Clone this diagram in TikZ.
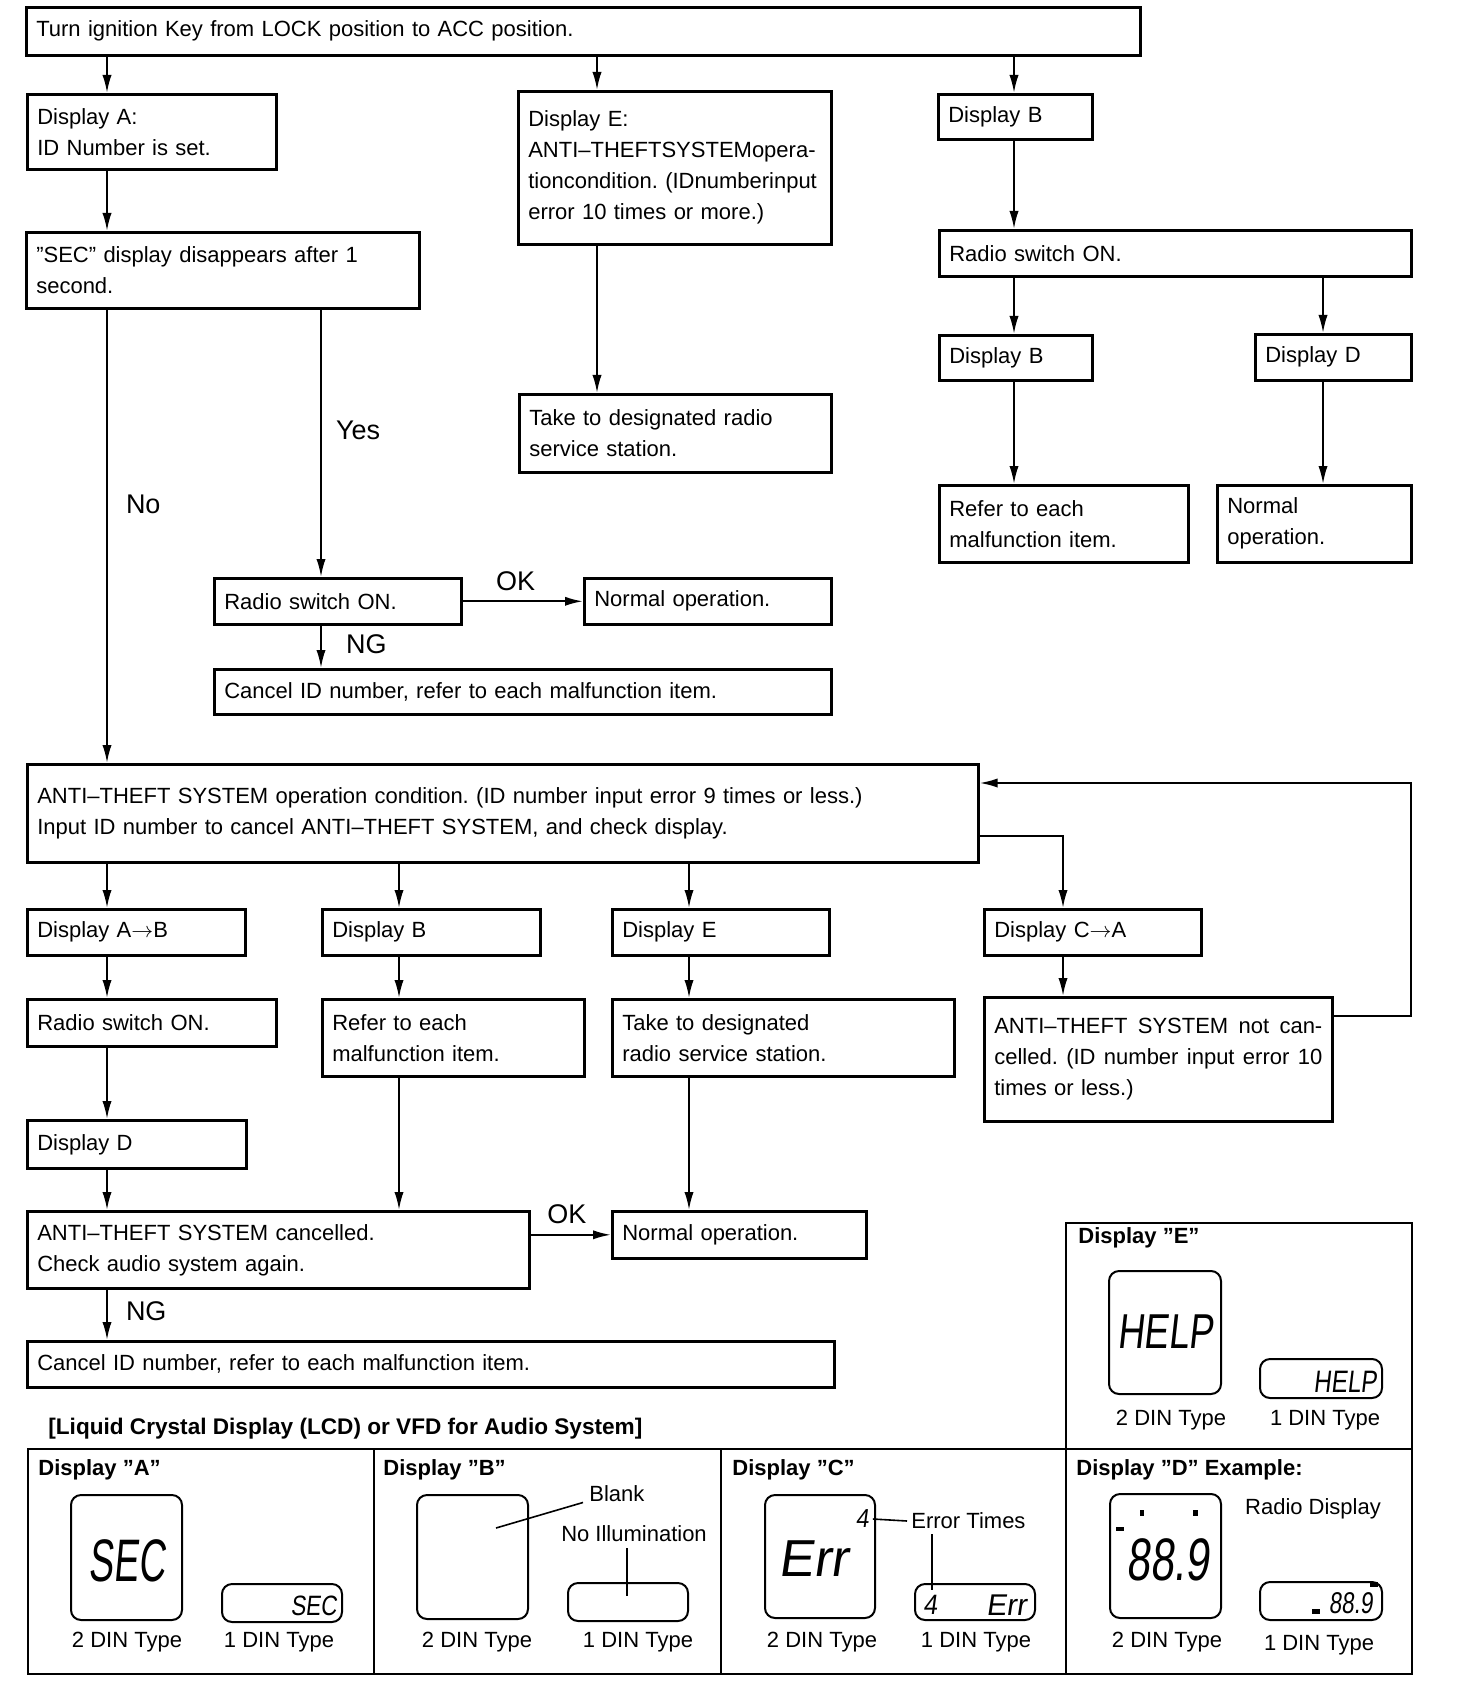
\documentclass[tikz,border=0pt]{standalone}
\usepackage{fontspec}
\usepackage{graphicx}
\setmainfont{Liberation Sans}
\newfontfamily\lcdfont[FakeSlant=0.15]{Liberation Sans}
\usetikzlibrary{arrows.meta}
\frenchspacing
\tikzstyle{box} = [rectangle, draw=black, line width=1.3pt, anchor=north west, align=left, inner xsep=5pt, inner ysep=2pt, font=\fontsize{11}{15.5}\selectfont]
\tikzstyle{arrow} = [line width=1pt,->,>={Latex[length=9pt,width=4.6pt]}]
\tikzstyle{lbl} = [font=\fontsize{13.5}{16}\selectfont, inner sep=1pt]
\tikzstyle{panel} = [line width=1.4pt]
\tikzstyle{lcd} = [line width=1pt, rounded corners=5pt]
\tikzstyle{dinlabel} = [font=\fontsize{11}{13}\selectfont, inner sep=0pt]
\tikzstyle{ptitle} = [font=\bfseries\fontsize{11}{13}\selectfont, anchor=west, inner sep=0pt]
\tikzstyle{seg} = [inner sep=0pt]
\newcommand{\lcdseg}[3]{\scalebox{#2}[1]{\lcdfont\fontsize{#1}{#1}\selectfont #3}}

\begin{document}
\begin{tikzpicture}[x=0.5pt, y=-0.5pt]
\useasboundingbox (0,0) rectangle (1456,1684);

% Columns and rows for connectors
\coordinate (cA) at (107,0);
\coordinate (cYes) at (321,0);
\coordinate (cE) at (597,0);
\coordinate (cB) at (1014,0);
\coordinate (cD) at (1323,0);
\coordinate (cMid) at (399,0);
\coordinate (cRight) at (689,0);
\coordinate (cC) at (1063,0);
\coordinate (cLoop) at (1411,0);
\coordinate (rowTap) at (0,836);
\coordinate (rowLoop) at (0,783);
\coordinate (rowBack) at (0,1016);

% Top row
\node (turnkey) [box, text width=547pt, minimum height=24pt] at (25,6) {Turn ignition Key from LOCK position to ACC position.};

% First column
\node (dispA) [box, text width=114.5pt, minimum height=37.5pt] at (26,93) {Display A:\\ID Number is set.};
\node (secgone) [box, text width=186.5pt, minimum height=38pt] at (25,231) {”SEC” display disappears after 1\\second.};
\node (radioM) [box, text width=113.5pt, minimum height=23pt] at (213,577) {Radio switch ON.};
\node (normalM) [box, text width=113.5pt, minimum height=23pt] at (583,577) {Normal operation.};
\node (cancelM) [box, text width=298.5pt, minimum height=22.5pt] at (213,668) {Cancel ID number, refer to each malfunction item.};

% Second column
\node (dispEtop) [box, text width=146.5pt, minimum height=76.5pt] at (517,90) {Display E:\\ANTI–THEFTSYSTEMopera-\\tioncondition. (IDnumberinput\\error 10 times or more.)};
\node (takeTop) [box, text width=146pt, minimum height=39pt] at (518,393) {Take to designated radio\\service station.};

% Third column
\node (dispBtop) [box, text width=67pt, minimum height=22.5pt] at (937,93) {Display B};
\node (radioR) [box, text width=226pt, minimum height=23pt] at (938,229) {Radio switch ON.};
\node (dispBR) [box, text width=66.5pt, minimum height=22.5pt] at (938,334) {Display B};
\node (dispDR) [box, text width=68pt, minimum height=23pt] at (1254,333) {Display D};
\node (referR) [box, text width=114.5pt, minimum height=38.5pt] at (938,484) {Refer to each\\malfunction item.};
\node (normalR) [box, text width=87pt, minimum height=38.5pt] at (1216,484) {Normal\\operation.};

% Anti-theft part
\node (antitheft) [box, text width=465.5pt, minimum height=49pt] at (26,763) {ANTI–THEFT SYSTEM operation condition. (ID number input error 9 times or less.)\\Input ID number to cancel ANTI–THEFT SYSTEM, and check display.};
\node (dispAB) [box, text width=99pt, minimum height=23pt] at (26,908) {Display A$\rightarrow$B};
\node (dispBL) [box, text width=99pt, minimum height=23pt] at (321,908) {Display B};
\node (dispEL) [box, text width=98.5pt, minimum height=23pt] at (611,908) {Display E};
\node (dispCA) [box, text width=98.5pt, minimum height=23pt] at (983,908) {Display C$\rightarrow$A};
\node (radioL) [box, text width=114.5pt, minimum height=23.5pt] at (26,998) {Radio switch ON.};
\node (referL) [box, text width=121pt, minimum height=38.5pt] at (321,998) {Refer to each\\malfunction item.};
\node (takeL) [box, text width=161pt, minimum height=38.5pt] at (611,998) {Take to designated\\radio service station.};
\node (notcanc) [box, text width=164pt, minimum height=62pt] at (983,996) {ANTI–THEFT\hfill SYSTEM\hfill not\hfill can-\\celled.\hfill (ID\hfill number\hfill input\hfill error\hfill 10\\times or less.)};
\node (dispDL) [box, text width=99.5pt, minimum height=24pt] at (26,1119) {Display D};
\node (cancelled) [box, text width=241pt, minimum height=38.5pt] at (26,1210) {ANTI–THEFT SYSTEM cancelled.\\Check audio system again.};
\node (normalL) [box, text width=117pt, minimum height=23.5pt] at (611,1210) {Normal operation.};
\node (cancelL) [box, text width=393.5pt, minimum height=23pt] at (26,1340) {Cancel ID number, refer to each malfunction item.};

% Drawing arrows
\draw [arrow] (turnkey.south -| cA) -- (dispA.north -| cA);
\draw [arrow] (turnkey.south -| cE) -- (dispEtop.north -| cE);
\draw [arrow] (turnkey.south -| cB) -- (dispBtop.north -| cB);
\draw [arrow] (dispA.south -| cA) -- (secgone.north -| cA);
\draw [arrow] (dispEtop.south -| cE) -- (takeTop.north -| cE);
\draw [arrow] (dispBtop.south -| cB) -- (radioR.north -| cB);
\draw [arrow] (radioR.south -| cB) -- (dispBR.north -| cB);
\draw [arrow] (radioR.south -| cD) -- (dispDR.north -| cD);
\draw [arrow] (dispBR.south -| cB) -- (referR.north -| cB);
\draw [arrow] (dispDR.south -| cD) -- (normalR.north -| cD);
\draw [arrow] (secgone.south -| cYes) -- node[lbl, pos=0.45, anchor=west, xshift=6pt] {Yes} (radioM.north -| cYes);
\draw [arrow] (secgone.south -| cA) -- node[lbl, pos=0.43, anchor=west, xshift=8pt] {No} (antitheft.north -| cA);
\draw [arrow] (radioM) -- node[lbl, pos=0.44, yshift=10pt] {OK} (normalM);
\draw [arrow] (radioM.south -| cYes) -- node[lbl, pos=0.45, anchor=west, xshift=11pt] {NG} (cancelM.north -| cYes);

\draw [arrow] (antitheft.south -| cA) -- (dispAB.north -| cA);
\draw [arrow] (antitheft.south -| cMid) -- (dispBL.north -| cMid);
\draw [arrow] (antitheft.south -| cRight) -- (dispEL.north -| cRight);
\draw [arrow] (antitheft.east |- rowTap) -| (dispCA.north -| cC);
\draw [arrow] (dispCA.south -| cC) -- (notcanc.north -| cC);
\draw [arrow] (notcanc.east |- rowBack) -| (cLoop |- rowLoop) -- (antitheft.east |- rowLoop);
\draw [arrow] (dispAB.south -| cA) -- (radioL.north -| cA);
\draw [arrow] (radioL.south -| cA) -- (dispDL.north -| cA);
\draw [arrow] (dispDL.south -| cA) -- (cancelled.north -| cA);
\draw [arrow] (cancelled.south -| cA) -- node[lbl, pos=0.42, anchor=west, xshift=8pt] {NG} (cancelL.north -| cA);
\draw [arrow] (dispBL.south -| cMid) -- (referL.north -| cMid);
\draw [arrow] (referL.south -| cMid) -- (cancelled.north -| cMid);
\draw [arrow] (dispEL.south -| cRight) -- (takeL.north -| cRight);
\draw [arrow] (takeL.south -| cRight) -- (normalL.north -| cRight);
\draw [arrow] (cancelled.east |- normalL.west) -- node[lbl, pos=0.45, yshift=10.5pt] {OK} (normalL.west);

% Display panels
\node (lcdtitle) [anchor=west, font=\bfseries\fontsize{11.3}{13}\selectfont, inner sep=0pt] at (48,1429) {[Liquid Crystal Display (LCD) or VFD for Audio System]};
\draw [panel] (1066,1223) rectangle (1412,1449);
\draw [panel] (28,1449) rectangle (1412,1674);
\draw [panel] (374,1449) -- (374,1674);
\draw [panel] (721,1449) -- (721,1674);
\draw [panel] (1066,1449) -- (1066,1674);

% Display A
\node (titleA) [ptitle] at (38,1470) {Display ”A”};
\draw [lcd] (71,1495) rectangle (182,1620);
\draw [lcd] (222,1584) rectangle (342,1622);
\node (segAbig) [seg] at (127,1561) {\lcdseg{30}{0.62}{SEC}};
\node (segAsmall) [seg, anchor=east] at (337,1606) {\lcdseg{14}{0.8}{SEC}};
\node (dinA2) [dinlabel] at (127,1642) {2 DIN Type};
\node (dinA1) [dinlabel] at (279,1642) {1 DIN Type};

% Display B
\node (titleB) [ptitle] at (383,1470) {Display ”B”};
\draw [lcd] (417,1495) rectangle (528,1619);
\draw [lcd] (568,1583) rectangle (688,1621);
\node (blank) [dinlabel, anchor=west] at (589,1494) {Blank};
\node (noillum) [dinlabel] at (634,1534) {No Illumination};
\coordinate (blankpt) at (496,1528);
\coordinate (illtop) at (627,1548);
\coordinate (illbot) at (627,1596);
\draw [line width=0.8pt] (blankpt) -- ([xshift=-3pt]blank.south west);
\draw [line width=0.8pt] (illtop) -- (illbot);
\node (dinB2) [dinlabel] at (477,1642) {2 DIN Type};
\node (dinB1) [dinlabel] at (638,1642) {1 DIN Type};

% Display C
\node (titleC) [ptitle] at (732,1470) {Display ”C”};
\draw [lcd] (765,1495) rectangle (875,1618);
\draw [lcd] (915,1584) rectangle (1035,1620);
\node (segCbig) [seg] at (813,1559) {\lcdseg{26}{1}{Err}};
\node (segCfour) [seg] at (862,1519) {\lcdseg{13}{0.9}{4}};
\node (segCsmall4) [seg] at (930,1605) {\lcdseg{14}{0.9}{4}};
\node (segCsmall) [seg] at (1006,1605) {\lcdseg{15}{1}{Err}};
\node (errtimes) [dinlabel, anchor=west] at (911,1521) {Error Times};
\coordinate (errtop) at (932,1534);
\coordinate (errdown) at (932,1590);
\draw [line width=0.8pt] ([xshift=2pt]segCfour.east) -- ([xshift=-2pt]errtimes.west);
\draw [line width=0.8pt] (errtop) -- (errdown);
\node (dinC2) [dinlabel] at (822,1642) {2 DIN Type};
\node (dinC1) [dinlabel] at (976,1642) {1 DIN Type};

% Display D
\node (titleD) [ptitle] at (1076,1470) {Display ”D” Example:};
\draw [lcd] (1110,1494) rectangle (1221,1618);
\draw [lcd] (1260,1582) rectangle (1382,1620);
\node (segDbig) [seg] at (1168,1560) {\lcdseg{30}{0.71}{88.9}};
\node (segDsmall) [seg, anchor=east] at (1373,1603) {\lcdseg{15}{0.75}{88.9}};
\fill (1140,1510) rectangle (1144,1516);
\fill (1193,1510) rectangle (1198,1516);
\fill (1116,1527) rectangle (1124,1531);
\fill (1312,1609) rectangle (1320,1614);
\fill (1370,1582) rectangle (1378,1587);
\node (radiodisp) [dinlabel] at (1313,1509) {Radio Display};
\node (dinD2) [dinlabel] at (1167,1642) {2 DIN Type};
\node (dinD1) [dinlabel] at (1319,1645) {1 DIN Type};

% Display E
\node (titleE) [ptitle] at (1078,1238) {Display ”E”};
\draw [lcd] (1109,1271) rectangle (1221,1394);
\draw [lcd] (1260,1359) rectangle (1382,1398);
\node (segEbig) [seg] at (1165,1332) {\lcdseg{24.5}{0.75}{HELP}};
\node (segEsmall) [seg, anchor=east] at (1377,1382) {\lcdseg{15.5}{0.78}{HELP}};
\node (dinE2) [dinlabel] at (1171,1420) {2 DIN Type};
\node (dinE1) [dinlabel] at (1325,1420) {1 DIN Type};

\end{tikzpicture}
\end{document}
